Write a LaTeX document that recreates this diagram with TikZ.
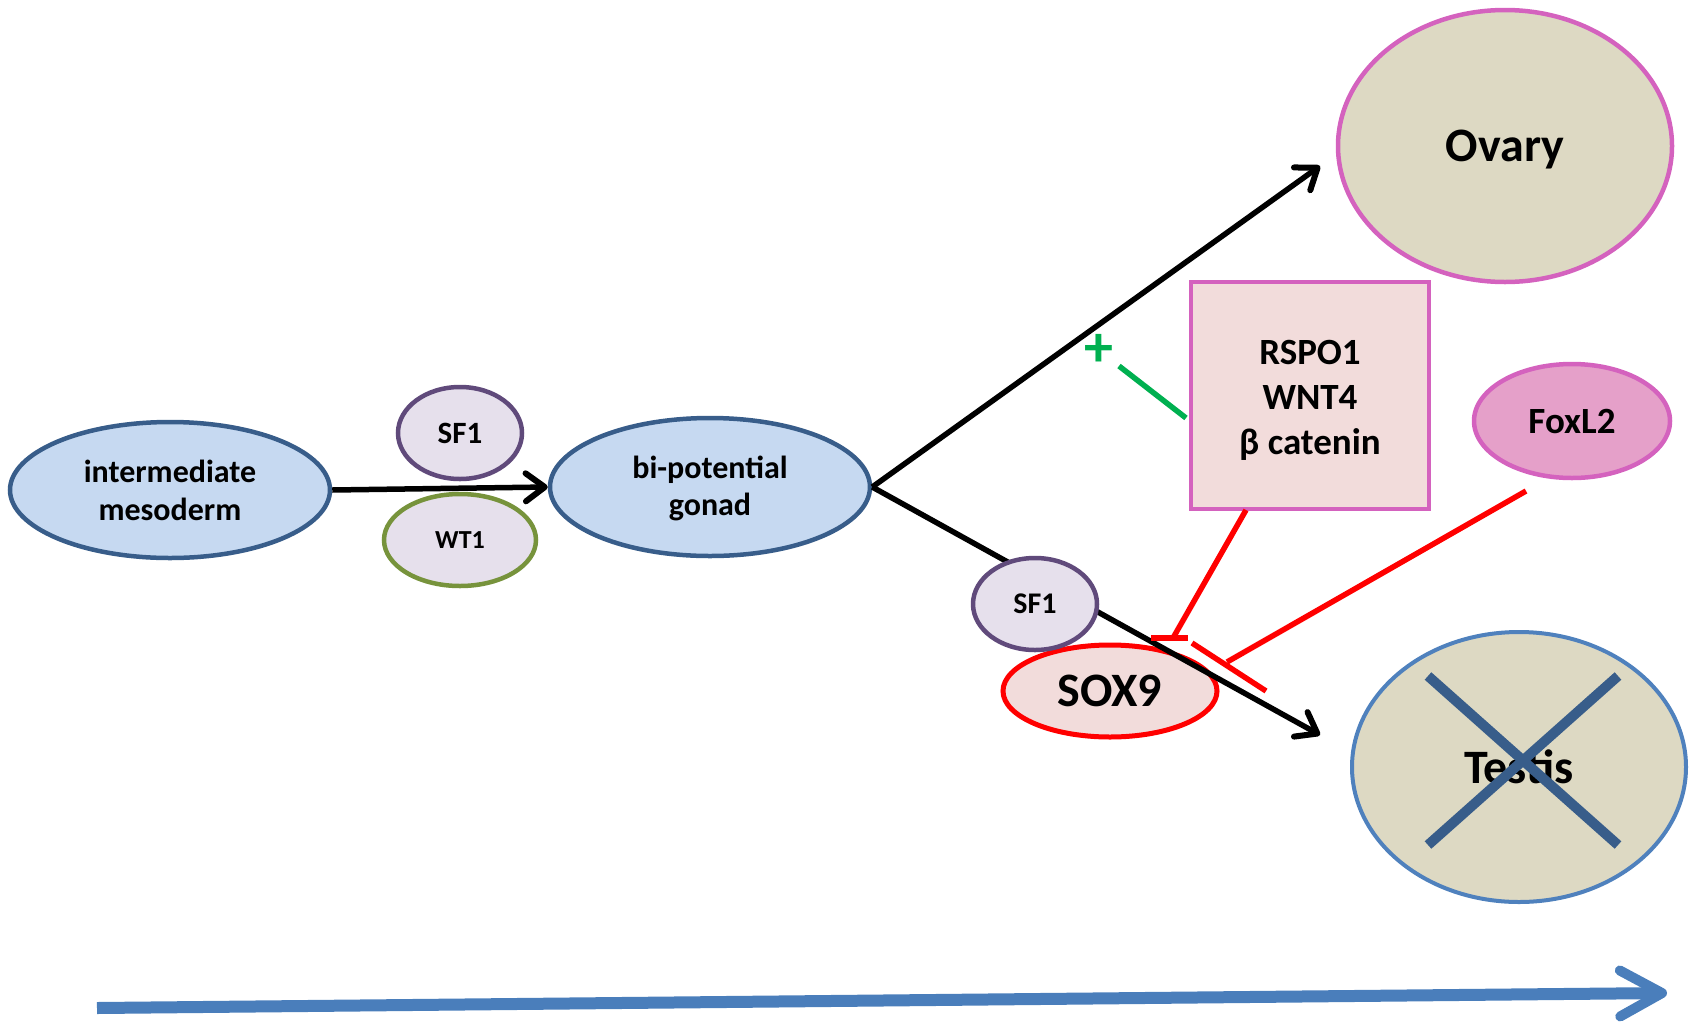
\documentclass[tikz,border=0pt]{standalone}
\usepackage{fontspec}
\setmainfont{Carlito}
\usetikzlibrary{shapes.geometric,arrows.meta}
\definecolor{blueFill}{HTML}{C6D9F1}
\definecolor{blueEdge}{HTML}{385D8A}
\definecolor{lavFill}{HTML}{E6E0EC}
\definecolor{purpleEdge}{HTML}{604A7B}
\definecolor{oliveEdge}{HTML}{77933C}
\definecolor{tanFill}{HTML}{DDD9C3}
\definecolor{magEdge}{HTML}{D462BE}
\definecolor{pinkFill}{HTML}{F2DCDB}
\definecolor{foxFill}{HTML}{E5A0C9}
\definecolor{testisEdge}{HTML}{4F81BD}
\definecolor{crossCol}{HTML}{385D8A}
\definecolor{greenC}{HTML}{00B050}
\definecolor{redC}{HTML}{FF0000}
\definecolor{timeCol}{HTML}{4A7EBB}
\newcommand{\lowerby}[2]{\raisebox{-#1}[\height][\depth]{#2}}
\begin{document}
\begin{tikzpicture}[x=1pt,y=-1pt,
  ell/.style={ellipse, draw, line width=4.5pt, inner sep=0pt, align=center},
  flow/.style={line width=5.5pt, -{Straight Barb[length=19pt,width=28pt,line width=6pt,round]}},
  inhib/.style={draw=redC, line width=5.5pt},
  timeline/.style={draw=timeCol, line width=12pt, -{Straight Barb[length=42pt,width=46pt,line width=10pt,round]}},
]
\useasboundingbox (0,0) rectangle (1690,1021);
% main nodes
\node[ell, fill=blueFill, draw=blueEdge, minimum width=320pt, minimum height=136pt,
  font=\bfseries\fontsize{32}{38}\selectfont] (meso) at (170,490) {intermediate\\mesoderm};
\node[ell, fill=blueFill, draw=blueEdge, minimum width=320pt, minimum height=138pt,
  font=\bfseries\fontsize{32}{37}\selectfont] (gon) at (710,487) {\lowerby{3pt}{\begin{tabular}{@{}c@{}}bi-potential\\gonad\end{tabular}}};
\node[ell, fill=tanFill, draw=magEdge, minimum width=334pt, minimum height=272pt,
  font=\bfseries\fontsize{48}{50}\selectfont] (ova) at (1505,146) {\lowerby{4pt}{Ovary}};
\node[ell, fill=tanFill, draw=testisEdge, line width=4pt, minimum width=334pt, minimum height=270pt,
  font=\bfseries\fontsize{48}{50}\selectfont] (tes) at (1519,767) {Testis};
\draw[crossCol, line width=10pt] (1428,676) -- (1618,845);
\draw[crossCol, line width=10pt] (1618,676) -- (1428,845);
\node[ell, fill=pinkFill, draw=redC, line width=5pt, minimum width=214pt, minimum height=92pt,
  font=\bfseries\fontsize{48}{50}\selectfont] (sox) at (1110,691) {SOX9};
\node[rectangle, draw=magEdge, fill=pinkFill, line width=4.5pt, minimum width=238pt, minimum height=227pt,
  inner sep=0pt, align=center, font=\bfseries\fontsize{37}{45}\selectfont] (box) at (1310,395.5) {\lowerby{5pt}{\begin{tabular}{@{}c@{}}RSPO1\\WNT4\\β catenin\end{tabular}}};
\node[ell, fill=foxFill, draw=magEdge, minimum width=196pt, minimum height=114pt,
  font=\bfseries\fontsize{37}{40}\selectfont] (fox) at (1572,421) {FoxL2};
% flow arrows
\coordinate (ovtip) at (1320,166);
\coordinate (tetip) at (1320,735);
\draw[flow] (meso.east) -- (gon.west);
\draw[flow] (gon.east) -- (ovtip);
\draw[flow] (gon.east) -- (tetip);
% green activation
\node[text=greenC, inner sep=0pt, font=\bfseries\fontsize{58}{58}\selectfont] (plus) at (1099,350) {+};
\coordinate (gA) at (1119,366);
\coordinate (gB) at (1186,418);
\draw[greenC, line width=5.5pt] (gB) -- (gA);
% red inhibitions
\coordinate (r1) at (1246,510);
\coordinate (r1e) at (1173,638);
\coordinate (b1a) at (1151,638);
\coordinate (b1b) at (1188,638);
\draw[inhib] (r1) -- (r1e);
\draw[inhib] (b1a) -- (b1b);
\coordinate (r2) at (1526,491);
\coordinate (r2e) at (1227,662);
\coordinate (b2a) at (1192,643);
\coordinate (b2b) at (1266,691);
\draw[inhib] (r2) -- (r2e);
\draw[inhib] (b2a) -- (b2b);
% small factor nodes
\node[ell, fill=lavFill, draw=purpleEdge, minimum width=124pt, minimum height=92pt,
  font=\bfseries\fontsize{30}{30}\selectfont] (sfb) at (1035,604) {SF1};
\node[ell, fill=lavFill, draw=purpleEdge, minimum width=124pt, minimum height=92pt,
  font=\bfseries\fontsize{31}{30}\selectfont] (sfa) at (460,433) {SF1};
\node[ell, fill=lavFill, draw=oliveEdge, minimum width=152pt, minimum height=92pt,
  font=\bfseries\fontsize{26}{28}\selectfont] (wt) at (460,540) {WT1};
% timeline
\coordinate (tA) at (97,1008);
\coordinate (tB) at (1667,993);
\draw[timeline] (tA) -- (tB);
\end{tikzpicture}
\end{document}
